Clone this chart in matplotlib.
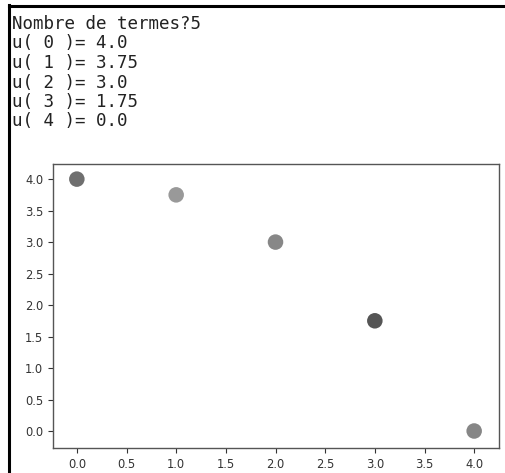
import matplotlib
matplotlib.use("Agg")
import matplotlib.pyplot as plt
from matplotlib.lines import Line2D

# sequence values printed and plotted
n_terms = 5
indices = [0, 1, 2, 3, 4]
u_values = [4.0, 3.75, 3.0, 1.75, 0.0]
point_colors = ["#6f6f6f", "#999999", "#878787", "#555555", "#868686"]
ticks = [0.0, 0.5, 1.0, 1.5, 2.0, 2.5, 3.0, 3.5, 4.0]

W, H = 505, 473
fig = plt.figure(figsize=(W / 100, H / 100), dpi=100)

# notebook-like frame (left and top border)
fig.add_artist(Line2D([8.5 / W, 8.5 / W], [0, 1 - 5 / H], color="black", lw=2.2,
                      transform=fig.transFigure))
fig.add_artist(Line2D([8.5 / W, 1], [1 - 6 / H, 1 - 6 / H], color="black", lw=2.2,
                      transform=fig.transFigure))

# console output
lines = ["Nombre de termes?{}".format(n_terms)]
for i, v in zip(indices, u_values):
    lines.append("u( {} )= {}".format(i, v))
for k, s in enumerate(lines):
    fig.text(12 / W, 1 - (24 + k * 19.5) / H, s, family="DejaVu Sans Mono",
             fontsize=12.6, color="#222222", va="center", ha="left")

# scatter axes
ax = fig.add_axes([53 / W, 1 - 448 / H, (499 - 53) / W, (448 - 164) / H])
ax.scatter(indices, u_values, s=125, c=point_colors, linewidths=0)
ax.set_xlim(-0.24, 4.25)
ax.set_ylim(-0.27, 4.24)
ax.set_xticks(ticks)
ax.set_yticks(ticks)
ax.set_xticklabels(["{:.1f}".format(t) for t in ticks])
ax.set_yticklabels(["{:.1f}".format(t) for t in ticks])
for sp in ax.spines.values():
    sp.set_color("#555555")
    sp.set_linewidth(1.0)
ax.tick_params(labelsize=8.3, colors="#333333", length=3.5, width=0.8)

fig.savefig("out.png", dpi=100)
